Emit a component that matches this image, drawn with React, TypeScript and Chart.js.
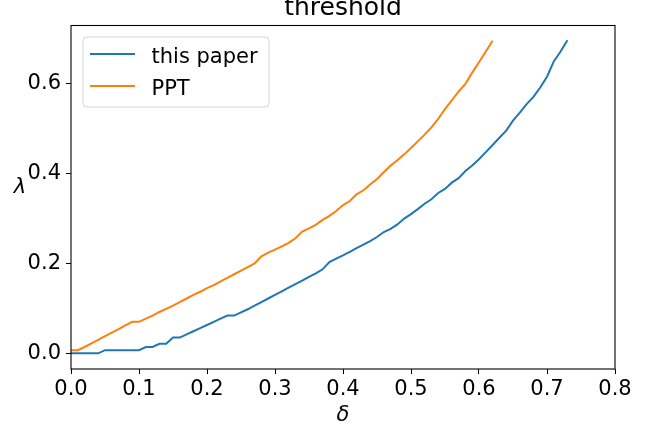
import React, { useEffect, useRef } from "react";
import { Chart, registerables } from "chart.js";

Chart.register(...registerables);

const titleText = "threshold";
const xLabel = "δ";
const yLabel = "λ";

const seriesNames = ["this paper", "PPT"];
const seriesColors = ["#1f77b4", "#ff7f0e"];

const deltaThisPaper = [
  0.0, 0.01, 0.02, 0.03, 0.04, 0.05, 0.06, 0.07, 0.08, 0.09,
  0.1, 0.11, 0.12, 0.13, 0.14, 0.15, 0.16, 0.17, 0.18, 0.19,
  0.2, 0.21, 0.22, 0.23, 0.24, 0.25, 0.26, 0.27, 0.28, 0.29,
  0.3, 0.31, 0.32, 0.33, 0.34, 0.35, 0.36, 0.37, 0.38, 0.39,
  0.4, 0.41, 0.42, 0.43, 0.44, 0.45, 0.46, 0.47, 0.48, 0.49,
  0.5, 0.51, 0.52, 0.53, 0.54, 0.55, 0.56, 0.57, 0.58, 0.59,
  0.6, 0.61, 0.62, 0.63, 0.64, 0.65, 0.66, 0.67, 0.68, 0.69,
  0.7, 0.71, 0.72, 0.73,
];
const lambdaThisPaper = [
  0, 0, 0, 0, 0,
  0.007, 0.007, 0.007, 0.007, 0.007, 0.007,
  0.014, 0.014,
  0.021, 0.021,
  0.035, 0.035,
  0.042, 0.049, 0.056, 0.063, 0.07, 0.077,
  0.084, 0.084,
  0.091, 0.098, 0.106, 0.114, 0.122, 0.13, 0.138, 0.146, 0.154, 0.162, 0.17, 0.178, 0.187,
  0.203, 0.211, 0.218, 0.226, 0.234, 0.242, 0.25, 0.259,
  0.27, 0.277, 0.287, 0.3, 0.31, 0.321, 0.333, 0.343, 0.357, 0.366, 0.38, 0.39, 0.406, 0.418, 0.432,
  0.448, 0.464, 0.48, 0.496, 0.518, 0.536, 0.555, 0.571, 0.592, 0.616, 0.65, 0.672, 0.697,
];

const deltaPPT = [
  0.0, 0.01, 0.02, 0.03, 0.04, 0.05, 0.06, 0.07, 0.08, 0.09,
  0.1, 0.11, 0.12, 0.13, 0.14, 0.15, 0.16, 0.17, 0.18, 0.19,
  0.2, 0.21, 0.22, 0.23, 0.24, 0.25, 0.26, 0.27, 0.28, 0.29,
  0.3, 0.31, 0.32, 0.33, 0.34, 0.35, 0.36, 0.37, 0.38, 0.39,
  0.4, 0.41, 0.42, 0.43, 0.44, 0.45, 0.46, 0.47, 0.48, 0.49,
  0.5, 0.51, 0.52, 0.53, 0.54, 0.55, 0.56, 0.57, 0.58, 0.59,
  0.6, 0.61, 0.62,
];
const lambdaPPT = [
  0.007, 0.007,
  0.014, 0.022, 0.03, 0.038, 0.046, 0.054, 0.062, 0.07,
  0.07,
  0.077, 0.084, 0.092, 0.099, 0.106, 0.114, 0.122, 0.13, 0.137,
  0.145, 0.152, 0.16, 0.168, 0.176, 0.184, 0.192, 0.2,
  0.216, 0.224, 0.231, 0.238, 0.246, 0.256,
  0.271, 0.278, 0.286, 0.297,
  0.306, 0.317, 0.33, 0.339, 0.354, 0.363, 0.376, 0.388, 0.403, 0.418, 0.43,
  0.443, 0.457, 0.472, 0.487, 0.503, 0.522, 0.544, 0.563, 0.583, 0.6, 0.625, 0.648, 0.672, 0.696,
];

const xTicks = [0.0, 0.1, 0.2, 0.3, 0.4, 0.5, 0.6, 0.7, 0.8];
const yTicks = [0.0, 0.2, 0.4, 0.6];

const FONT = "'DejaVu Sans', 'Liberation Sans', sans-serif";

const decorPlugin = {
  id: "decor",
  afterDatasetsDraw(chart: any) {
    const { ctx, chartArea } = chart;
    const { left, top, right, bottom } = chartArea;
    ctx.save();
    // frame (spines)
    ctx.strokeStyle = "#000000";
    ctx.lineWidth = 1.1;
    ctx.strokeRect(left, top, right - left, bottom - top);

    // legend
    const bx = left + 12;
    const by = top + 11.5;
    const bw = 186;
    const bh = 70;
    const r = 4;
    ctx.beginPath();
    ctx.moveTo(bx + r, by);
    ctx.lineTo(bx + bw - r, by);
    ctx.arcTo(bx + bw, by, bx + bw, by + r, r);
    ctx.lineTo(bx + bw, by + bh - r);
    ctx.arcTo(bx + bw, by + bh, bx + bw - r, by + bh, r);
    ctx.lineTo(bx + r, by + bh);
    ctx.arcTo(bx, by + bh, bx, by + bh - r, r);
    ctx.lineTo(bx, by + r);
    ctx.arcTo(bx, by, bx + r, by, r);
    ctx.closePath();
    ctx.fillStyle = "rgba(255,255,255,0.8)";
    ctx.fill();
    ctx.strokeStyle = "rgba(204,204,204,0.8)";
    ctx.lineWidth = 1;
    ctx.stroke();

    ctx.font = `21px ${FONT}`;
    ctx.textAlign = "left";
    ctx.textBaseline = "alphabetic";
    chart.data.datasets.forEach((ds: any, i: number) => {
      const ly = by + 17 + i * 32;
      ctx.strokeStyle = ds.borderColor;
      ctx.lineWidth = 2;
      ctx.beginPath();
      ctx.moveTo(bx + 7, ly);
      ctx.lineTo(bx + 52, ly);
      ctx.stroke();
      ctx.fillStyle = "#000000";
      ctx.fillText(ds.label, bx + 68.5, ly + 8.5);
    });

    // axis labels
    ctx.font = `italic 21px ${FONT}`;
    ctx.fillStyle = "#000000";
    ctx.textAlign = "center";
    ctx.fillText(xLabel, (left + right) / 2, 421);
    ctx.fillText(yLabel, 20, 193);
    ctx.restore();
  },
};

export default function App() {
  const canvasRef = useRef<HTMLCanvasElement | null>(null);

  useEffect(() => {
    if (!canvasRef.current) return;
    const chart = new Chart(canvasRef.current, {
      type: "line",
      data: {
        datasets: [
          {
            label: seriesNames[0],
            data: deltaThisPaper.map((x, i) => ({ x, y: lambdaThisPaper[i] })),
            borderColor: seriesColors[0],
            backgroundColor: seriesColors[0],
            borderWidth: 2,
            pointRadius: 0,
            tension: 0,
          },
          {
            label: seriesNames[1],
            data: deltaPPT.map((x, i) => ({ x, y: lambdaPPT[i] })),
            borderColor: seriesColors[1],
            backgroundColor: seriesColors[1],
            borderWidth: 2,
            pointRadius: 0,
            tension: 0,
          },
        ],
      },
      options: {
        animation: false,
        responsive: true,
        maintainAspectRatio: false,
        devicePixelRatio: 1,
        layout: { padding: { left: 0, right: 44, top: 0, bottom: 0 } },
        plugins: {
          legend: { display: false },
          tooltip: { enabled: false },
          title: {
            display: true,
            text: titleText,
            fullSize: false,
            color: "#000000",
            font: { family: FONT, size: 25, weight: "normal", lineHeight: 0.66 },
            padding: { top: 0, bottom: 9 },
          },
        },
        scales: {
          x: {
            type: "linear",
            min: 0,
            max: 0.8,
            afterBuildTicks: (scale: any) => {
              scale.ticks = xTicks.map((v) => ({ value: v }));
            },
            afterFit: (scale: any) => {
              scale.height = 60;
            },
            border: { display: false },
            grid: {
              drawOnChartArea: false,
              drawTicks: true,
              tickLength: 5,
              color: "#000000",
              lineWidth: 1,
            },
            ticks: {
              color: "#000000",
              padding: 3,
              maxRotation: 0,
              font: { family: FONT, size: 21 },
              callback: (v: any) => Number(v).toFixed(1),
            },
          },
          y: {
            type: "linear",
            min: -0.035,
            max: 0.73,
            afterBuildTicks: (scale: any) => {
              scale.ticks = yTicks.map((v) => ({ value: v }));
            },
            afterFit: (scale: any) => {
              scale.width = 71;
            },
            border: { display: false },
            grid: {
              drawOnChartArea: false,
              drawTicks: true,
              tickLength: 5,
              color: "#000000",
              lineWidth: 1,
            },
            ticks: {
              color: "#000000",
              padding: 5,
              font: { family: FONT, size: 21 },
              callback: (v: any) => Number(v).toFixed(1),
            },
          },
        },
      },
      plugins: [decorPlugin],
    });
    return () => chart.destroy();
  }, []);

  return (
    <div
      style={{
        position: "absolute",
        left: 0,
        top: 0,
        width: 659,
        height: 429,
        background: "#ffffff",
      }}
    >
      <canvas ref={canvasRef} />
    </div>
  );
}
